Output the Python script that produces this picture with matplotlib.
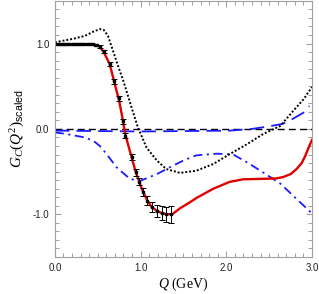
import numpy as np
import matplotlib
matplotlib.use('Agg')
import matplotlib.pyplot as plt
from matplotlib.ticker import MultipleLocator

plt.rcParams['mathtext.fontset'] = 'custom'
plt.rcParams['mathtext.rm'] = 'Liberation Serif'
plt.rcParams['mathtext.it'] = 'Liberation Serif:italic'
plt.rcParams['mathtext.sf'] = 'Liberation Sans'

# ---- data points with errors (black squares) -----------------------------
q_dat = [0.02, 0.045, 0.07, 0.095, 0.12, 0.145, 0.17, 0.195, 0.22, 0.245, 0.27,
         0.295, 0.32, 0.345, 0.37, 0.395, 0.42, 0.445, 0.47, 0.495,
         0.525, 0.57, 0.64, 0.69, 0.75, 0.79, 0.82, 0.895, 0.945, 0.985,
         1.03, 1.08, 1.13, 1.19, 1.245, 1.30, 1.355]
g_dat = [0.99, 0.99, 0.99, 0.99, 0.99, 0.99, 0.99, 0.99, 0.99, 0.99, 0.99,
         0.99, 0.99, 0.99, 0.99, 0.99, 0.99, 0.99, 0.985, 0.98,
         0.965, 0.91, 0.76, 0.56, 0.36, 0.09, -0.08, -0.33, -0.51, -0.62,
         -0.74, -0.84, -0.915, -0.96, -0.985, -1.0, -1.0]
e_dat = [0.005] * 20 + [0.02, 0.02, 0.025, 0.03, 0.03, 0.03, 0.03, 0.035, 0.04, 0.04,
                        0.045, 0.05, 0.06, 0.07, 0.08, 0.09, 0.1]

# ---- red fit curve -------------------------------------------------------
q_red = [0.0, 0.2, 0.4, 0.46, 0.5, 0.525, 0.57, 0.64, 0.69, 0.75, 0.79, 0.82, 0.895,
         0.945, 0.985, 1.03, 1.08, 1.13, 1.19, 1.245, 1.30, 1.37, 1.46, 1.575,
         1.65, 1.85, 2.04, 2.20, 2.43, 2.58, 2.66, 2.75, 2.82, 2.88, 2.92, 2.96, 3.0]
g_red = [0.99, 0.99, 0.99, 0.988, 0.978, 0.96, 0.9, 0.76, 0.56, 0.33, 0.12, -0.06, -0.33,
         -0.51, -0.62, -0.74, -0.84, -0.915, -0.96, -0.985, -1.0, -1.0, -0.93, -0.86,
         -0.81, -0.70, -0.62, -0.59, -0.585, -0.58, -0.565, -0.53, -0.47, -0.40, -0.32, -0.22, -0.13]

# ---- black dotted curve --------------------------------------------------
q_blk = [0.0, 0.21, 0.35, 0.45, 0.525, 0.57, 0.62, 0.68, 0.74, 0.80, 0.895, 0.97,
         1.07, 1.19, 1.30, 1.46, 1.65, 1.85, 2.04, 2.24, 2.43, 2.63, 2.78, 2.90, 3.0]
g_blk = [1.015, 1.055, 1.09, 1.14, 1.17, 1.16, 1.09, 0.91, 0.73, 0.56, 0.25, 0.015,
         -0.22, -0.37, -0.47, -0.515, -0.49, -0.41, -0.295, -0.18, -0.06, 0.035, 0.21, 0.345, 0.49]

# ---- blue dashed curve ---------------------------------------------------
q_bds = [0.0, 0.5, 1.0, 1.5, 2.04, 2.3, 2.5, 2.66, 2.78, 2.90, 2.97]
g_bds = [-0.02, -0.025, -0.03, -0.025, -0.02, 0.0, 0.03, 0.06, 0.12, 0.19, 0.27]

# ---- blue dash-dot curve -------------------------------------------------
q_bdd = [0.0, 0.135, 0.35, 0.45, 0.525, 0.6, 0.72, 0.875, 0.99, 1.19, 1.34, 1.50,
         1.65, 1.89, 2.08, 2.24, 2.43, 2.63, 2.82, 3.0]
g_bdd = [-0.04, -0.06, -0.1, -0.14, -0.2, -0.29, -0.45, -0.585, -0.61, -0.53, -0.45, -0.37,
         -0.31, -0.29, -0.30, -0.39, -0.51, -0.64, -0.82, -0.99]

fig = plt.figure(figsize=(3.19, 2.94), dpi=100)
ax = fig.add_axes([0.172, 0.126, 0.806, 0.871])

ax.axhline(0.0, color='black', ls=(0, (5, 3)), lw=1.0)
ax.plot(q_bds, g_bds, color='#1a1aff', ls=(0, (8, 4)), lw=1.3)
ax.plot(q_bdd, g_bdd, color='#1a1aff', ls=(0, (5, 2.5, 1.2, 2.5)), lw=1.3)
ax.plot(q_blk, g_blk, color='black', ls=(0, (1, 1)), lw=1.4)
ax.plot(q_red, g_red, color='#e00000', lw=1.7)
ax.errorbar(q_dat, g_dat, yerr=e_dat, fmt='s', color='black', ms=1.6,
            elinewidth=0.7, capsize=2, capthick=0.7)

ax.set_xlim(0, 3.0)
ax.set_ylim(-1.5, 1.5)
ax.xaxis.set_major_locator(MultipleLocator(1.0))
ax.xaxis.set_minor_locator(MultipleLocator(0.1))
ax.yaxis.set_major_locator(MultipleLocator(1.0))
ax.yaxis.set_minor_locator(MultipleLocator(0.1))
fmt = plt.FuncFormatter(lambda v, p: f'{v:.1f}')
ax.xaxis.set_major_formatter(fmt)
ax.yaxis.set_major_formatter(fmt)
ax.tick_params(which='both', direction='in', top=True, right=True,
               color='#a0a0a0', labelsize=7, labelcolor='#222222',
               labelfontfamily='Liberation Sans')
ax.tick_params(which='major', length=4, width=0.8, pad=4)
ax.tick_params(which='minor', length=3, width=0.7)
for s in ax.spines.values():
    s.set_color('#a0a0a0')
    s.set_linewidth(0.8)

ax.set_xlabel(r'$Q\ \mathrm{(GeV)}$', fontsize=10, labelpad=2)
ax.set_ylabel(r'$G_C(Q^2)_{\mathsf{scaled}}$', fontsize=11, labelpad=4)

fig.savefig('out.png', dpi=100)
